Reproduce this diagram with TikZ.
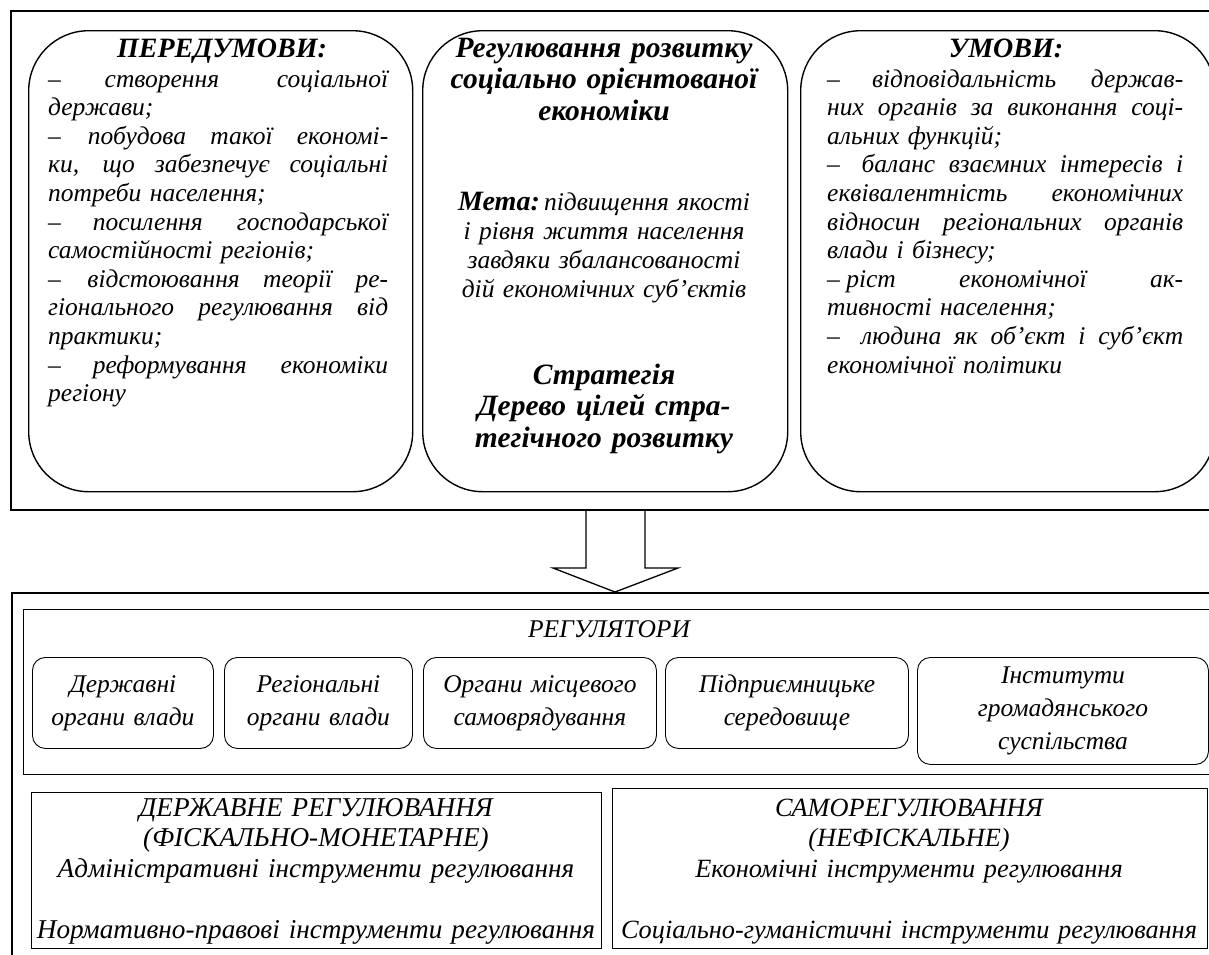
\documentclass[tikz,border=0pt]{standalone}
\usepackage{fontspec}
\setmainfont{Liberation Serif}
\newcommand{\jl}[1]{\leavevmode\hbox to \hsize{\spaceskip=0.25em plus 20em\xspaceskip=0.25em plus 20em #1}}
\newcommand{\ds}{–\hskip 18pt plus 10em\relax}
\begin{document}
\begin{tikzpicture}[x=1pt,y=-1pt,
  frame/.style={draw,line width=1.5pt,anchor=north west,inner sep=0pt},
  bigbox/.style={draw,line width=1.4pt,rounded corners=60pt,anchor=north west,inner sep=0pt},
  smallbox/.style={draw,line width=0.9pt,rounded corners=13pt,anchor=north west,inner sep=0pt,align=center,
     font=\fontsize{25.5}{33}\selectfont\itshape},
  botbox/.style={draw,line width=1.3pt,anchor=north west,inner sep=0pt},
  bodytxt/.style={inner sep=0pt,anchor=base west,align=left,font=\fontsize{25.5}{28.6}\selectfont\itshape},
  titletxt/.style={inner sep=0pt,anchor=base,font=\fontsize{28}{31}\selectfont\bfseries\itshape},
  midbold/.style={inner sep=0pt,anchor=base,align=center,text width=360pt,font=\fontsize{29.5}{31.5}\selectfont\bfseries\itshape},
  midtxt/.style={inner sep=0pt,anchor=base,align=center,text width=360pt,font=\fontsize{25.5}{29}\selectfont\itshape},
  bottxt/.style={inner sep=0pt,anchor=base,align=center,text width=600pt,font=\fontsize{27.2}{30.5}\selectfont\itshape},
  arrowline/.style={draw,line width=1.3pt,line join=miter}
]
\clip (0,0) rectangle (1209,954);
\fill[white] (0,0) rectangle (1209,954);

% ---------- top part ----------
\node[frame,minimum width=1215pt,minimum height=499pt] (topframe) at (10,10) {};
\node[bigbox,minimum width=384pt,minimum height=461pt] (pre) at (28,30) {};
\node[bigbox,minimum width=365pt,minimum height=461pt] (mid) at (422,30) {};
\node[bigbox,minimum width=414pt,minimum height=461pt] (cond) at (800,30) {};

\node[titletxt] (pretitle) at (222,57) {ПЕРЕДУМОВИ:};
\node[bodytxt,text width=340pt] (pretext) at (48,87) {%
\jl{\ds створення соціальної}\\
держави;\\
\jl{\ds побудова такої економі-}\\
\jl{ки, що забезпечує соціальні}\\
потреби населення;\\
\jl{\ds посилення господарської}\\
самостійності регіонів;\\
\jl{\ds відстоювання теорії ре-}\\
\jl{гіонального регулювання від}\\
практики;\\
\jl{\ds реформування економіки}\\
регіону};

\node[midbold] (midtitle) at (604,57) {Регулювання розвитку\\соціально орієнтованої\\економіки};
\node[midtxt] (goal) at (604,210) {\textbf{\fontsize{28}{29}\selectfont Мета:}\,підвищення якості\\і рівня життя населення\\завдяки збалансованості\\дій економічних суб’єктів};
\node[midbold] (strat) at (604,384) {Стратегія\\Дерево цілей стра-\\тегічного розвитку};

\node[titletxt] (condtitle) at (1006,57) {УМОВИ:};
\node[bodytxt,text width=356pt] (condtext) at (827,87) {%
\jl{\ds відповідальність держав-}\\
\jl{них органів за виконання соці-}\\
альних функцій;\\
\jl{\ds баланс взаємних інтересів і}\\
\jl{еквівалентність економічних}\\
\jl{відносин регіональних органів}\\
влади і бізнесу;\\
\jl{–\kern0.25em ріст економічної ак-}\\
тивності населення;\\
\jl{\ds людина як об’єкт і суб’єкт}\\
економічної політики};

% ---------- arrow ----------
\coordinate (a1) at (586,509);
\coordinate (a2) at (586,568);
\coordinate (a3) at (553,568);
\coordinate (a4) at (615,592);
\coordinate (a5) at (678,568);
\coordinate (a6) at (645,568);
\coordinate (a7) at (645,509);
\draw[arrowline] (a1) -- (a2) -- (a3) -- (a4) -- (a5) -- (a6) -- (a7);

% ---------- bottom part ----------
\node[frame,minimum width=1215pt,minimum height=400pt] (botframe) at (11,592) {};
\node[draw,line width=0.9pt,anchor=north west,inner sep=0pt,minimum width=1200pt,minimum height=165pt] (regframe) at (23,609) {};
\node[inner sep=0pt,anchor=base,font=\fontsize{25.5}{30}\selectfont\itshape] (regtitle) at (609,637) {РЕГУЛЯТОРИ};

\node[smallbox,minimum width=181pt,minimum height=91pt,text width=175pt] (r1) at (32,657) {Державні\\органи влади};
\node[smallbox,minimum width=188pt,minimum height=91pt,text width=182pt] (r2) at (224,657) {Регіональні\\органи влади};
\node[smallbox,minimum width=233pt,minimum height=91pt,text width=227pt] (r3) at (423,657) {Органи місцевого\\самоврядування};
\node[smallbox,minimum width=243pt,minimum height=91pt,text width=237pt] (r4) at (665,657) {Підприємницьке\\середовище};
\node[smallbox,minimum width=291pt,minimum height=107pt,text width=285pt] (r5) at (917,657) {Інститути\\громадянського\\суспільства};

\node[botbox,minimum width=570pt,minimum height=156pt] (state) at (31,792) {};
\node[botbox,minimum width=595pt,minimum height=160pt] (self) at (612,788) {};

\node[bottxt] (statetxt) at (316,816) {ДЕРЖАВНЕ РЕГУЛЮВАННЯ\\(ФІСКАЛЬНО-МОНЕТАРНЕ)\\Адміністративні інструменти регулювання\\[30.5pt]Нормативно-правові інструменти регулювання};
\node[bottxt,font=\fontsize{26.3}{30.5}\selectfont\itshape] (selftxt) at (909,816) {САМОРЕГУЛЮВАННЯ\\(НЕФІСКАЛЬНЕ)\\Економічні інструменти регулювання\\[30.5pt]Соціально-гуманістичні інструменти регулювання};
\end{tikzpicture}
\end{document}
